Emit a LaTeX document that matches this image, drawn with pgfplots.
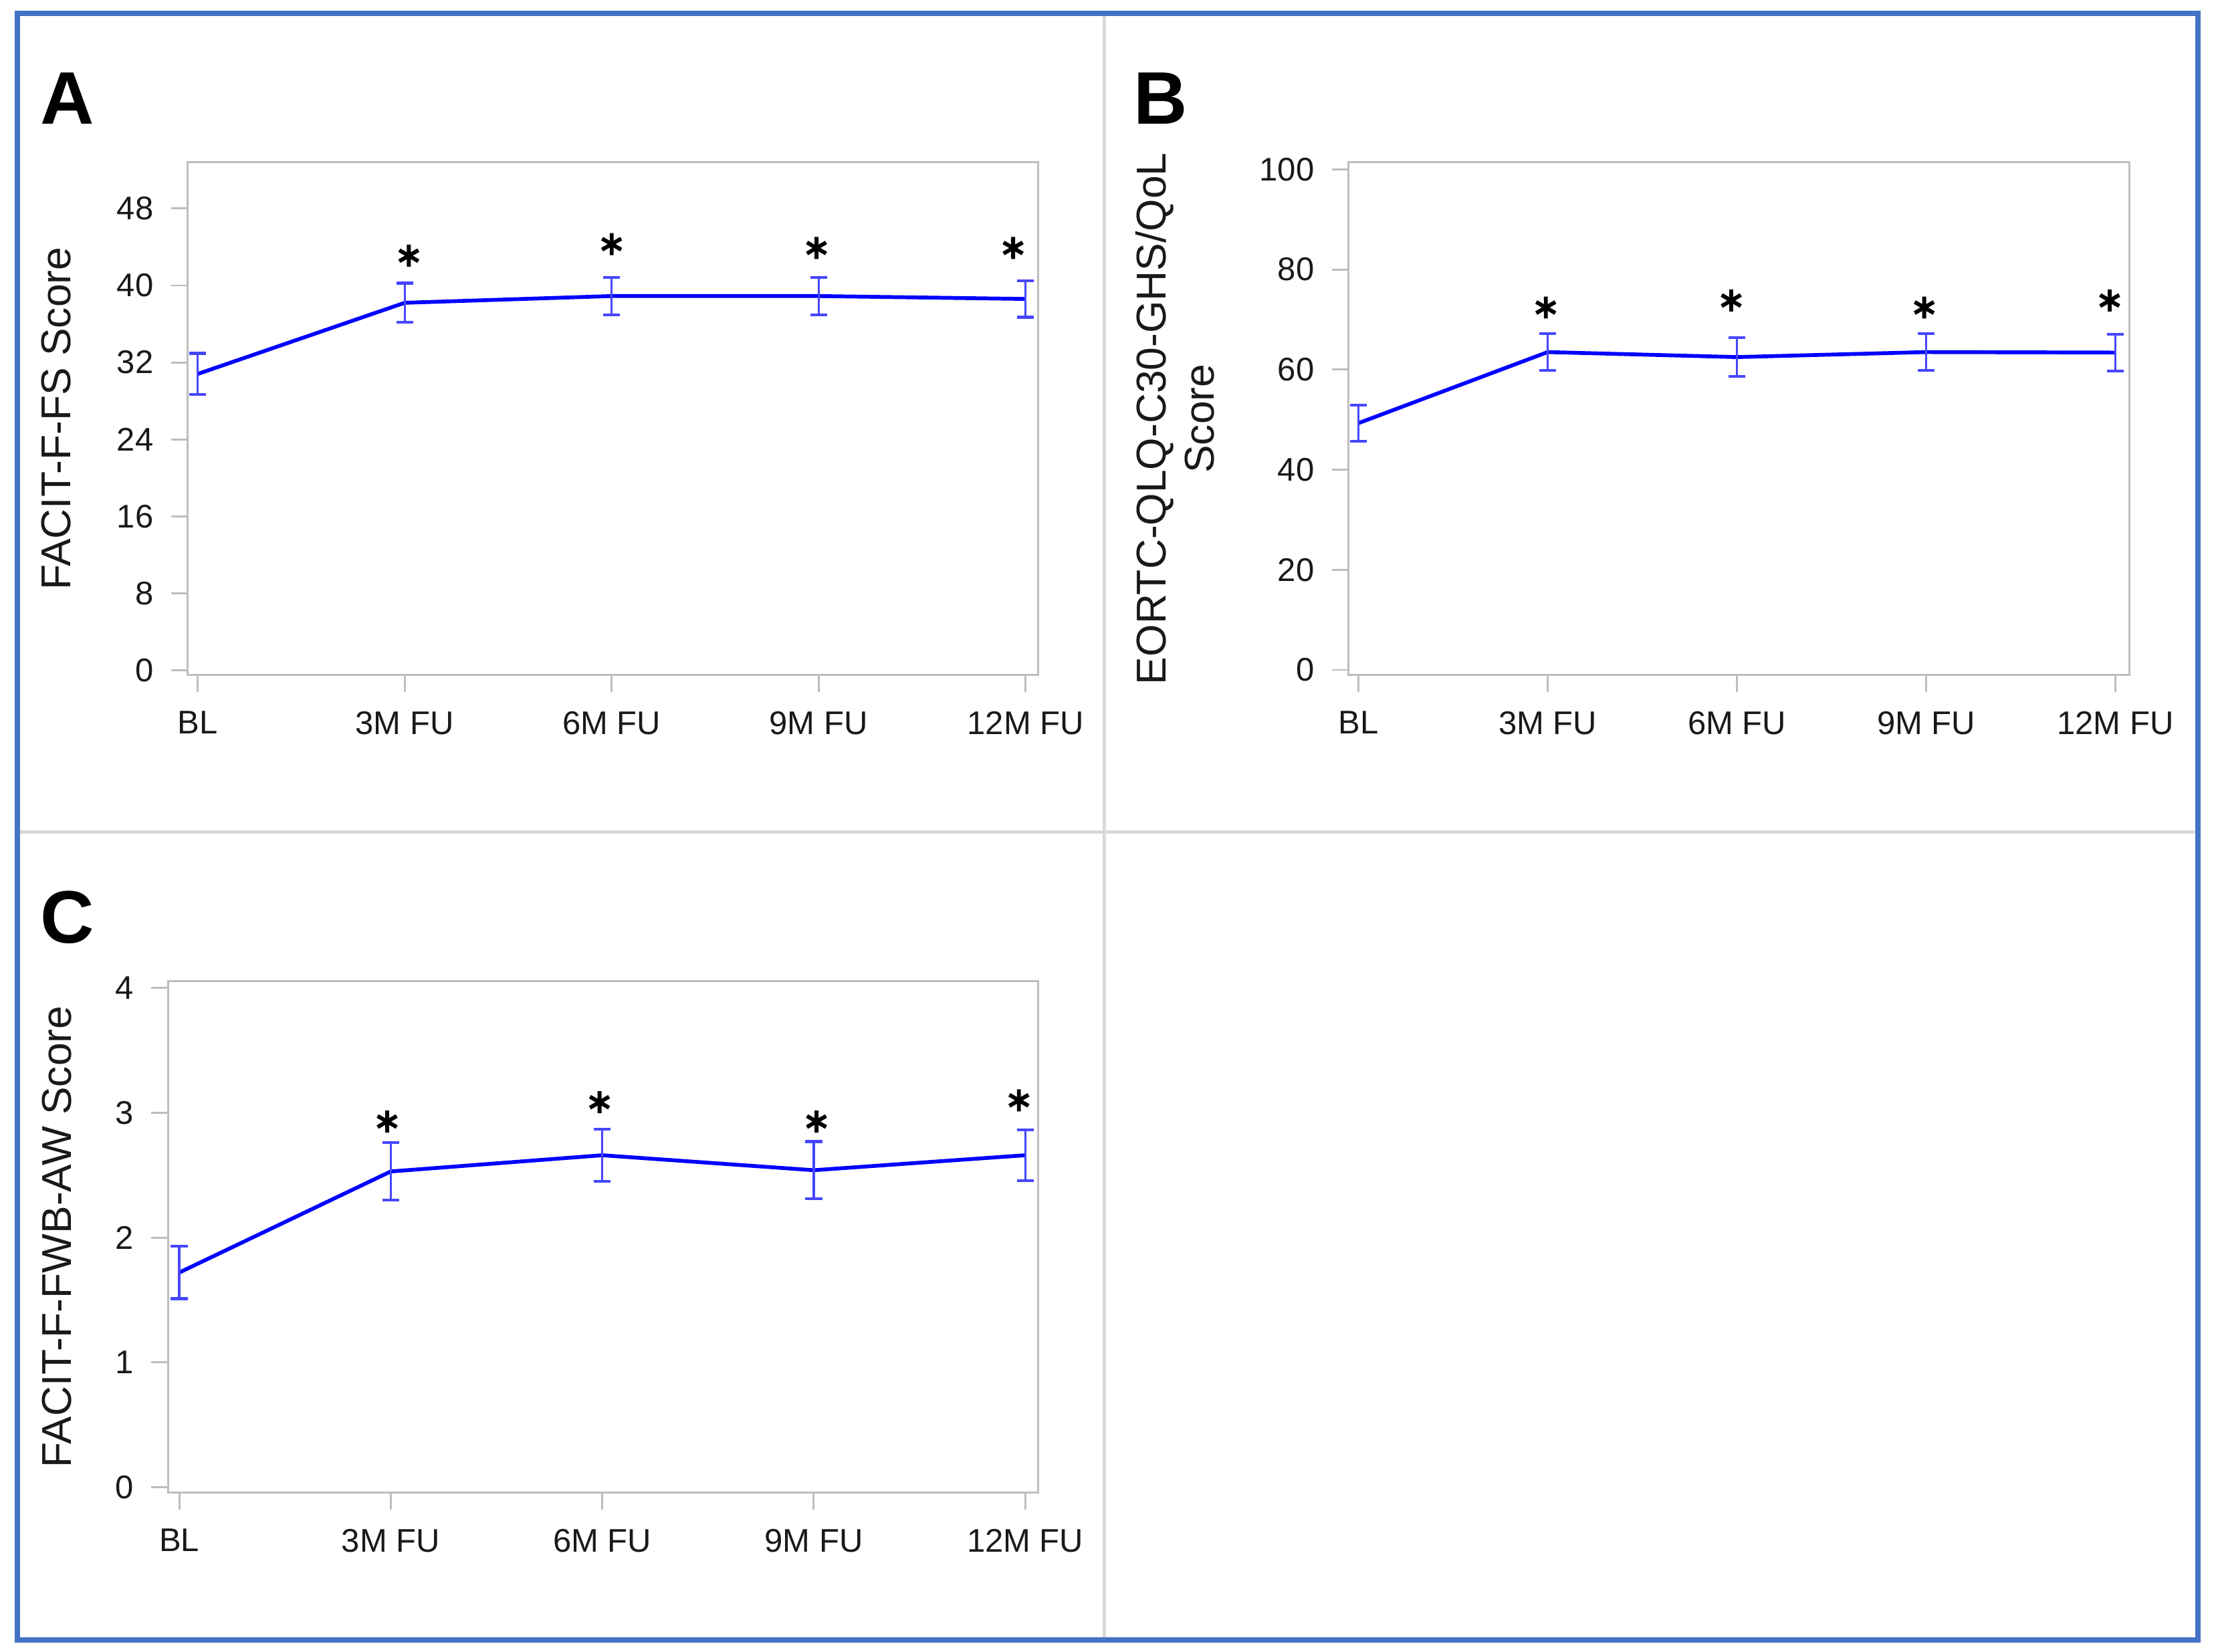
\documentclass[border=0pt]{standalone}
\usepackage{fontspec}
\setmainfont{Liberation Sans}
\usepackage{pgfplots}
\pgfplotsset{compat=1.18}

\definecolor{frameblue}{HTML}{4472C4}
\definecolor{divgray}{HTML}{D9D9D9}
\definecolor{axgray}{HTML}{BDBDBD}
\definecolor{linblue}{HTML}{0000FF}
\definecolor{errblue}{HTML}{4646FF}

\pgfplotsset{
  panel/.style={
    scale only axis,
    clip=false,
    axis line style={draw=axgray, line width=0.14mm},
    tick style={draw=axgray, line width=0.14mm},
    tick align=outside,
    tick pos=left,
    major tick length=1.2mm,
    xtick={0,1,2,3,4},
    xticklabels={BL,3M FU,6M FU,9M FU,12M FU},
    ticklabel style={font=\fontsize{6.6}{8}\selectfont, text=black!90},
    xticklabel style={yshift=-0.15mm},
    label style={font=\fontsize{8.4}{9.6}\selectfont, text=black!90},
    /pgf/number format/assume math mode=true,
  },
  meanline/.style={
    color=linblue, line width=0.27mm, mark=none,
    error bars/.cd, y dir=both, y explicit,
    error mark=|,
    error bar style={color=errblue, line width=0.15mm},
    error mark options={color=errblue, mark size=0.6mm, line width=0.2mm},
  },
  stars/.style={
    only marks, mark=asterisk, mark size=0.78mm,
    mark options={draw=black, line width=0.28mm},
  },
}

\begin{document}
\begin{tikzpicture}[x=0.1mm, y=0.1mm]
\path[fill=white] (0,0) rectangle (1567.8,1170);

% panel frame and dividers
\draw[divgray, line width=0.24mm] (782,8.5) -- (782,1160.7);
\draw[divgray, line width=0.24mm] (12.3,580.5) -- (1556.5,580.5);
\draw[frameblue, line width=0.38mm] (12.3,8.5) rectangle (1556.5,1160.7);

\node[anchor=base west, inner sep=0, font=\fontsize{15}{15}\selectfont\bfseries] at (28,1082) {A};
\node[anchor=base west, inner sep=0, font=\fontsize{15}{15}\selectfont\bfseries] at (802,1082) {B};
\node[anchor=base west, inner sep=0, font=\fontsize{15}{15}\selectfont\bfseries] at (28,502) {C};

% A: FACIT-F-FS
\begin{axis}[panel,
  at={(13.3mm,69.2mm)}, anchor=south west,
  width=60.2mm, height=36.3mm,
  xmin=-0.048, xmax=4.06,
  ymin=-0.5, ymax=52.8,
  ytick={0,8,16,24,32,40,48},
  ylabel={FACIT-F-FS Score},
  ylabel style={at={(axis description cs:-0.1545,0.5)}, anchor=center},
]
\addplot[meanline] coordinates {
  (0,30.8) +- (0,2.15)
  (1,38.2) +- (0,2.05)
  (2,38.9) +- (0,1.95)
  (3,38.9) +- (0,1.95)
  (4,38.6) +- (0,1.9)
};
\addplot[stars] coordinates {(1.02,43.1) (2.0,44.3) (2.99,43.9) (3.94,43.9)};
\end{axis}

% B: EORTC-QLQ-C30-GHS/QoL
\begin{axis}[panel,
  at={(95.5mm,69.2mm)}, anchor=south west,
  width=55.3mm, height=36.3mm,
  xmin=-0.052, xmax=4.075,
  ymin=-1.0, ymax=101.4,
  ytick={0,20,40,60,80,100},
  ylabel={EORTC-QLQ-C30-GHS/QoL\\Score},
  ylabel style={align=center, at={(axis description cs:-0.2224,0.5)}, anchor=center},
]
\addplot[meanline] coordinates {
  (0,49.3) +- (0,3.6)
  (1,63.5) +- (0,3.7)
  (2,62.5) +- (0,3.9)
  (3,63.5) +- (0,3.7)
  (4,63.4) +- (0,3.7)
};
\addplot[stars] coordinates {(0.99,72.4) (1.97,73.8) (2.99,72.4) (3.97,73.8)};
\end{axis}

% C: FACIT-F-FWB-AW
\begin{axis}[panel,
  at={(11.9mm,11.3mm)}, anchor=south west,
  width=61.6mm, height=36.2mm,
  xmin=-0.053, xmax=4.06,
  ymin=-0.042, ymax=4.054,
  ytick={0,1,2,3,4},
  ylabel={FACIT-F-FWB-AW Score},
  ylabel style={at={(axis description cs:-0.128,0.5)}, anchor=center},
]
\addplot[meanline] coordinates {
  (0,1.72) +- (0,0.21)
  (1,2.53) +- (0,0.23)
  (2,2.66) +- (0,0.21)
  (3,2.54) +- (0,0.23)
  (4,2.66) +- (0,0.205)
};
\addplot[stars] coordinates {(0.983,2.93) (1.987,3.085) (3.013,2.93) (3.97,3.10)};
\end{axis}

\pgfresetboundingbox
\path (0,0) rectangle (1567.8,1170);
\end{tikzpicture}
\end{document}
